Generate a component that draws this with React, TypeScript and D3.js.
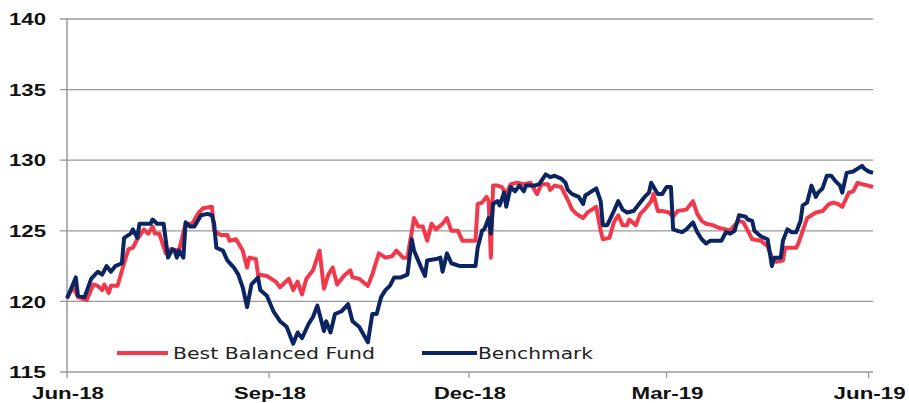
import * as d3 from 'd3'
import { useMemo } from 'react'

// x values are days since 29 Jun 2018
const fundDays = [0, 3, 5, 9, 12, 14, 16, 17, 19, 20, 23, 26, 28, 30, 32, 35, 37, 39, 40, 42, 45, 47, 51, 54, 57, 60, 62, 66, 67, 70, 73, 74, 77, 80, 82, 83, 86, 87, 91, 95, 97, 101, 103, 105, 107, 109, 112, 115, 117, 119, 121, 123, 126, 129, 130, 133, 137, 139, 142, 145, 148, 150, 153, 155, 158, 160, 162, 164, 166, 168, 171, 173, 175, 178, 180, 186, 187, 189, 191, 192, 193, 194, 196, 198, 200, 202, 205, 208, 211, 214, 216, 219, 220, 222, 225, 228, 230, 232, 235, 237, 239, 241, 243, 244, 247, 249, 251, 253, 255, 256, 259, 261, 263, 266, 267, 269, 271, 274, 276, 278, 282, 285, 287, 289, 291, 294, 297, 300, 302, 304, 306, 308, 310, 312, 316, 319, 321, 323, 326, 327, 332, 333, 335, 337, 339, 341, 344, 347, 349, 351, 353, 356, 358, 360, 362, 365, 367]
const fundValues = [120.3, 121.0, 120.3, 120.1, 121.2, 121.1, 120.8, 121.2, 120.6, 121.1, 121.1, 122.7, 123.7, 123.8, 124.4, 125.1, 124.8, 125.3, 124.8, 124.8, 123.4, 123.7, 123.6, 125.5, 125.5, 126.3, 126.6, 126.7, 125.0, 124.7, 124.7, 124.3, 124.4, 123.6, 122.4, 123.1, 123.0, 121.9, 121.8, 121.4, 121.0, 121.6, 120.8, 121.4, 120.5, 121.6, 122.2, 123.6, 120.9, 121.9, 122.4, 121.2, 121.8, 122.2, 121.7, 121.6, 121.1, 121.9, 123.4, 123.1, 123.2, 123.6, 123.1, 123.1, 125.9, 125.3, 125.3, 124.3, 125.5, 125.1, 125.5, 125.9, 125.0, 125.0, 124.3, 124.3, 126.9, 127.0, 127.4, 127.1, 123.1, 128.2, 128.2, 128.1, 127.6, 128.3, 128.4, 128.3, 128.4, 127.6, 128.3, 128.3, 127.9, 128.2, 128.1, 127.2, 126.5, 126.2, 125.9, 126.3, 126.5, 126.7, 125.0, 124.4, 124.5, 125.6, 126.1, 125.4, 125.4, 125.8, 125.4, 126.2, 126.5, 127.1, 127.6, 126.4, 126.4, 126.3, 126.0, 126.4, 126.5, 127.1, 126.2, 125.7, 125.5, 125.4, 125.2, 125.1, 125.0, 125.4, 125.7, 125.6, 125.0, 124.4, 124.3, 123.9, 123.1, 122.8, 122.9, 123.8, 123.8, 124.1, 125.0, 125.9, 126.1, 126.3, 126.4, 126.9, 127.0, 126.9, 126.7, 127.7, 127.8, 128.4, 128.3, 128.2, 128.1]

const benchDays = [0, 4, 5, 8, 11, 14, 16, 18, 20, 22, 25, 26, 29, 30, 32, 33, 38, 39, 41, 44, 46, 48, 49, 50, 51, 53, 54, 56, 58, 61, 64, 66, 67, 68, 71, 73, 76, 78, 80, 82, 84, 87, 88, 91, 94, 97, 100, 103, 105, 107, 110, 112, 114, 117, 118, 120, 122, 125, 128, 130, 133, 137, 139, 141, 143, 145, 147, 149, 152, 155, 157, 158, 161, 163, 164, 168, 170, 171, 173, 175, 179, 186, 187, 189, 190, 192, 193, 194, 196, 197, 199, 200, 202, 204, 206, 208, 209, 213, 215, 218, 220, 222, 225, 227, 228, 230, 233, 235, 236, 238, 241, 243, 244, 246, 249, 251, 253, 255, 258, 261, 263, 265, 266, 269, 271, 273, 275, 276, 278, 280, 282, 285, 287, 289, 291, 293, 298, 300, 302, 304, 306, 309, 310, 312, 313, 316, 319, 321, 322, 325, 326, 328, 330, 332, 334, 335, 337, 339, 341, 342, 344, 346, 348, 350, 352, 353, 355, 358, 360, 362, 363, 365, 367]
const benchValues = [120.2, 121.7, 120.4, 120.3, 121.6, 122.1, 121.9, 122.5, 122.1, 122.5, 122.7, 124.5, 124.8, 125.1, 124.5, 125.5, 125.5, 125.8, 125.5, 125.5, 123.1, 123.7, 123.6, 123.1, 123.6, 123.1, 125.6, 125.3, 125.3, 126.1, 126.2, 126.1, 125.5, 123.8, 123.6, 122.9, 122.4, 121.9, 121.0, 119.6, 121.2, 121.7, 120.8, 120.4, 119.3, 118.6, 118.2, 117.0, 117.8, 117.4, 118.4, 118.9, 119.7, 117.9, 118.6, 117.8, 119.1, 119.3, 119.8, 118.6, 118.2, 117.1, 119.1, 119.1, 120.3, 120.8, 121.1, 121.7, 121.7, 121.9, 124.4, 123.6, 122.5, 121.8, 122.9, 123.0, 123.1, 122.1, 123.4, 122.7, 122.5, 122.5, 123.8, 125.0, 125.1, 125.9, 124.8, 126.9, 127.1, 126.8, 127.7, 126.7, 128.1, 127.8, 128.2, 127.8, 128.2, 128.2, 128.3, 129.0, 128.8, 128.9, 128.7, 128.4, 127.9, 127.6, 127.4, 126.9, 127.5, 127.7, 128.0, 127.1, 125.4, 125.4, 126.4, 127.1, 126.5, 126.3, 126.4, 127.0, 127.4, 127.7, 128.4, 127.6, 127.6, 128.1, 128.1, 125.1, 125.0, 124.9, 125.1, 125.6, 124.9, 124.4, 124.1, 124.3, 124.3, 124.9, 124.8, 125.0, 126.1, 126.0, 125.8, 125.7, 125.0, 124.6, 124.4, 122.5, 123.1, 123.1, 124.3, 125.1, 124.9, 124.9, 125.7, 126.8, 127.0, 128.2, 127.4, 127.7, 128.0, 128.9, 128.9, 128.5, 128.2, 127.7, 129.1, 129.2, 129.4, 129.6, 129.4, 129.2, 129.1]

const yTicks = [115, 120, 125, 130, 135, 140]
const xTickDates = ['2018-06-29', '2018-09-29', '2018-12-29', '2019-03-29', '2019-06-29']
const xTickLabels = ['Jun-18', 'Sep-18', 'Dec-18', 'Mar-19', 'Jun-19']
const seriesNames = ['Best Balanced Fund', 'Benchmark']

const startDate = new Date(2018, 5, 29)
const endDate = new Date(2019, 6, 1)

const App = () => {
    const svgWidth = 909
    const svgHeight = 403
    const margin = { left: 67, right: 36, top: 19, bottom: 31 }
    const width = svgWidth - margin.left - margin.right
    const height = svgHeight - margin.top - margin.bottom

    const x = useMemo(() => d3.scaleTime().domain([startDate, endDate]).range([0, width]), [width])
    const y = useMemo(() => d3.scaleLinear().domain([115, 140]).range([height, 0]), [height])

    const toPoints = (days: number[], values: number[]) =>
        days.map((d, i) => ({ date: d3.timeDay.offset(startDate, d), value: values[i] }))

    const line = d3.line<{ date: Date, value: number }>()
        .x(d => x(d.date))
        .y(d => y(d.value))

    const fund = toPoints(fundDays, fundValues)
    const bench = toPoints(benchDays, benchValues)

    const gridColor = '#999999'
    const red = '#f2394b'
    const navy = '#0b2462'

    return (
        <svg width={svgWidth} height={svgHeight} style={{ position: 'absolute', left: 0, top: 0, background: '#fff' }}>
            <g transform={`translate(${margin.left},${margin.top})`}>
                {yTicks.map(t => (
                    <g key={t}>
                        <line x1={-7} x2={width} y1={y(t)} y2={y(t)} stroke={gridColor} strokeWidth={1.3} />
                        <text
                            x={-21}
                            y={y(t)}
                            dy="0.36em"
                            textAnchor="end"
                            fontFamily="'Liberation Sans', Arial, sans-serif"
                            fontWeight="bold"
                            fontSize={17}
                            fill="#111"
                            textLength={37}
                            lengthAdjust="spacingAndGlyphs"
                        >
                            {t}
                        </text>
                    </g>
                ))}
                <line x1={0} x2={0} y1={0} y2={height} stroke={gridColor} strokeWidth={1.5} />
                {xTickDates.map((d, i) => {
                    const xp = x(d3.timeParse('%Y-%m-%d')(d) as Date)
                    return (
                        <g key={d}>
                            <line x1={xp} x2={xp} y1={height} y2={height + 6} stroke={gridColor} strokeWidth={1.3} />
                            <text
                                x={xp + 1}
                                y={height + 21}
                                dy="0.36em"
                                textAnchor="middle"
                                fontFamily="'Liberation Sans', Arial, sans-serif"
                                fontWeight="bold"
                                fontSize={17}
                                fill="#111"
                                textLength={72}
                                lengthAdjust="spacingAndGlyphs"
                            >
                                {xTickLabels[i]}
                            </text>
                        </g>
                    )
                })}
                <path d={line(fund) ?? ''} fill="none" stroke={red} strokeWidth={4} strokeLinejoin="round" />
                <path d={line(bench) ?? ''} fill="none" stroke={navy} strokeWidth={4} strokeLinejoin="round" />
            </g>
            <g fontFamily="'DejaVu Sans', Verdana, sans-serif" fontSize={15} fill="#222">
                <line x1={117} x2={168} y1={353} y2={353} stroke={red} strokeWidth={4} />
                <text x={173} y={354} dy="0.36em" textLength={202} lengthAdjust="spacingAndGlyphs">{seriesNames[0]}</text>
                <line x1={422} x2={477} y1={353} y2={353} stroke={navy} strokeWidth={4} />
                <text x={478} y={354} dy="0.36em" textLength={115} lengthAdjust="spacingAndGlyphs">{seriesNames[1]}</text>
            </g>
        </svg>
    )
}

export default App
